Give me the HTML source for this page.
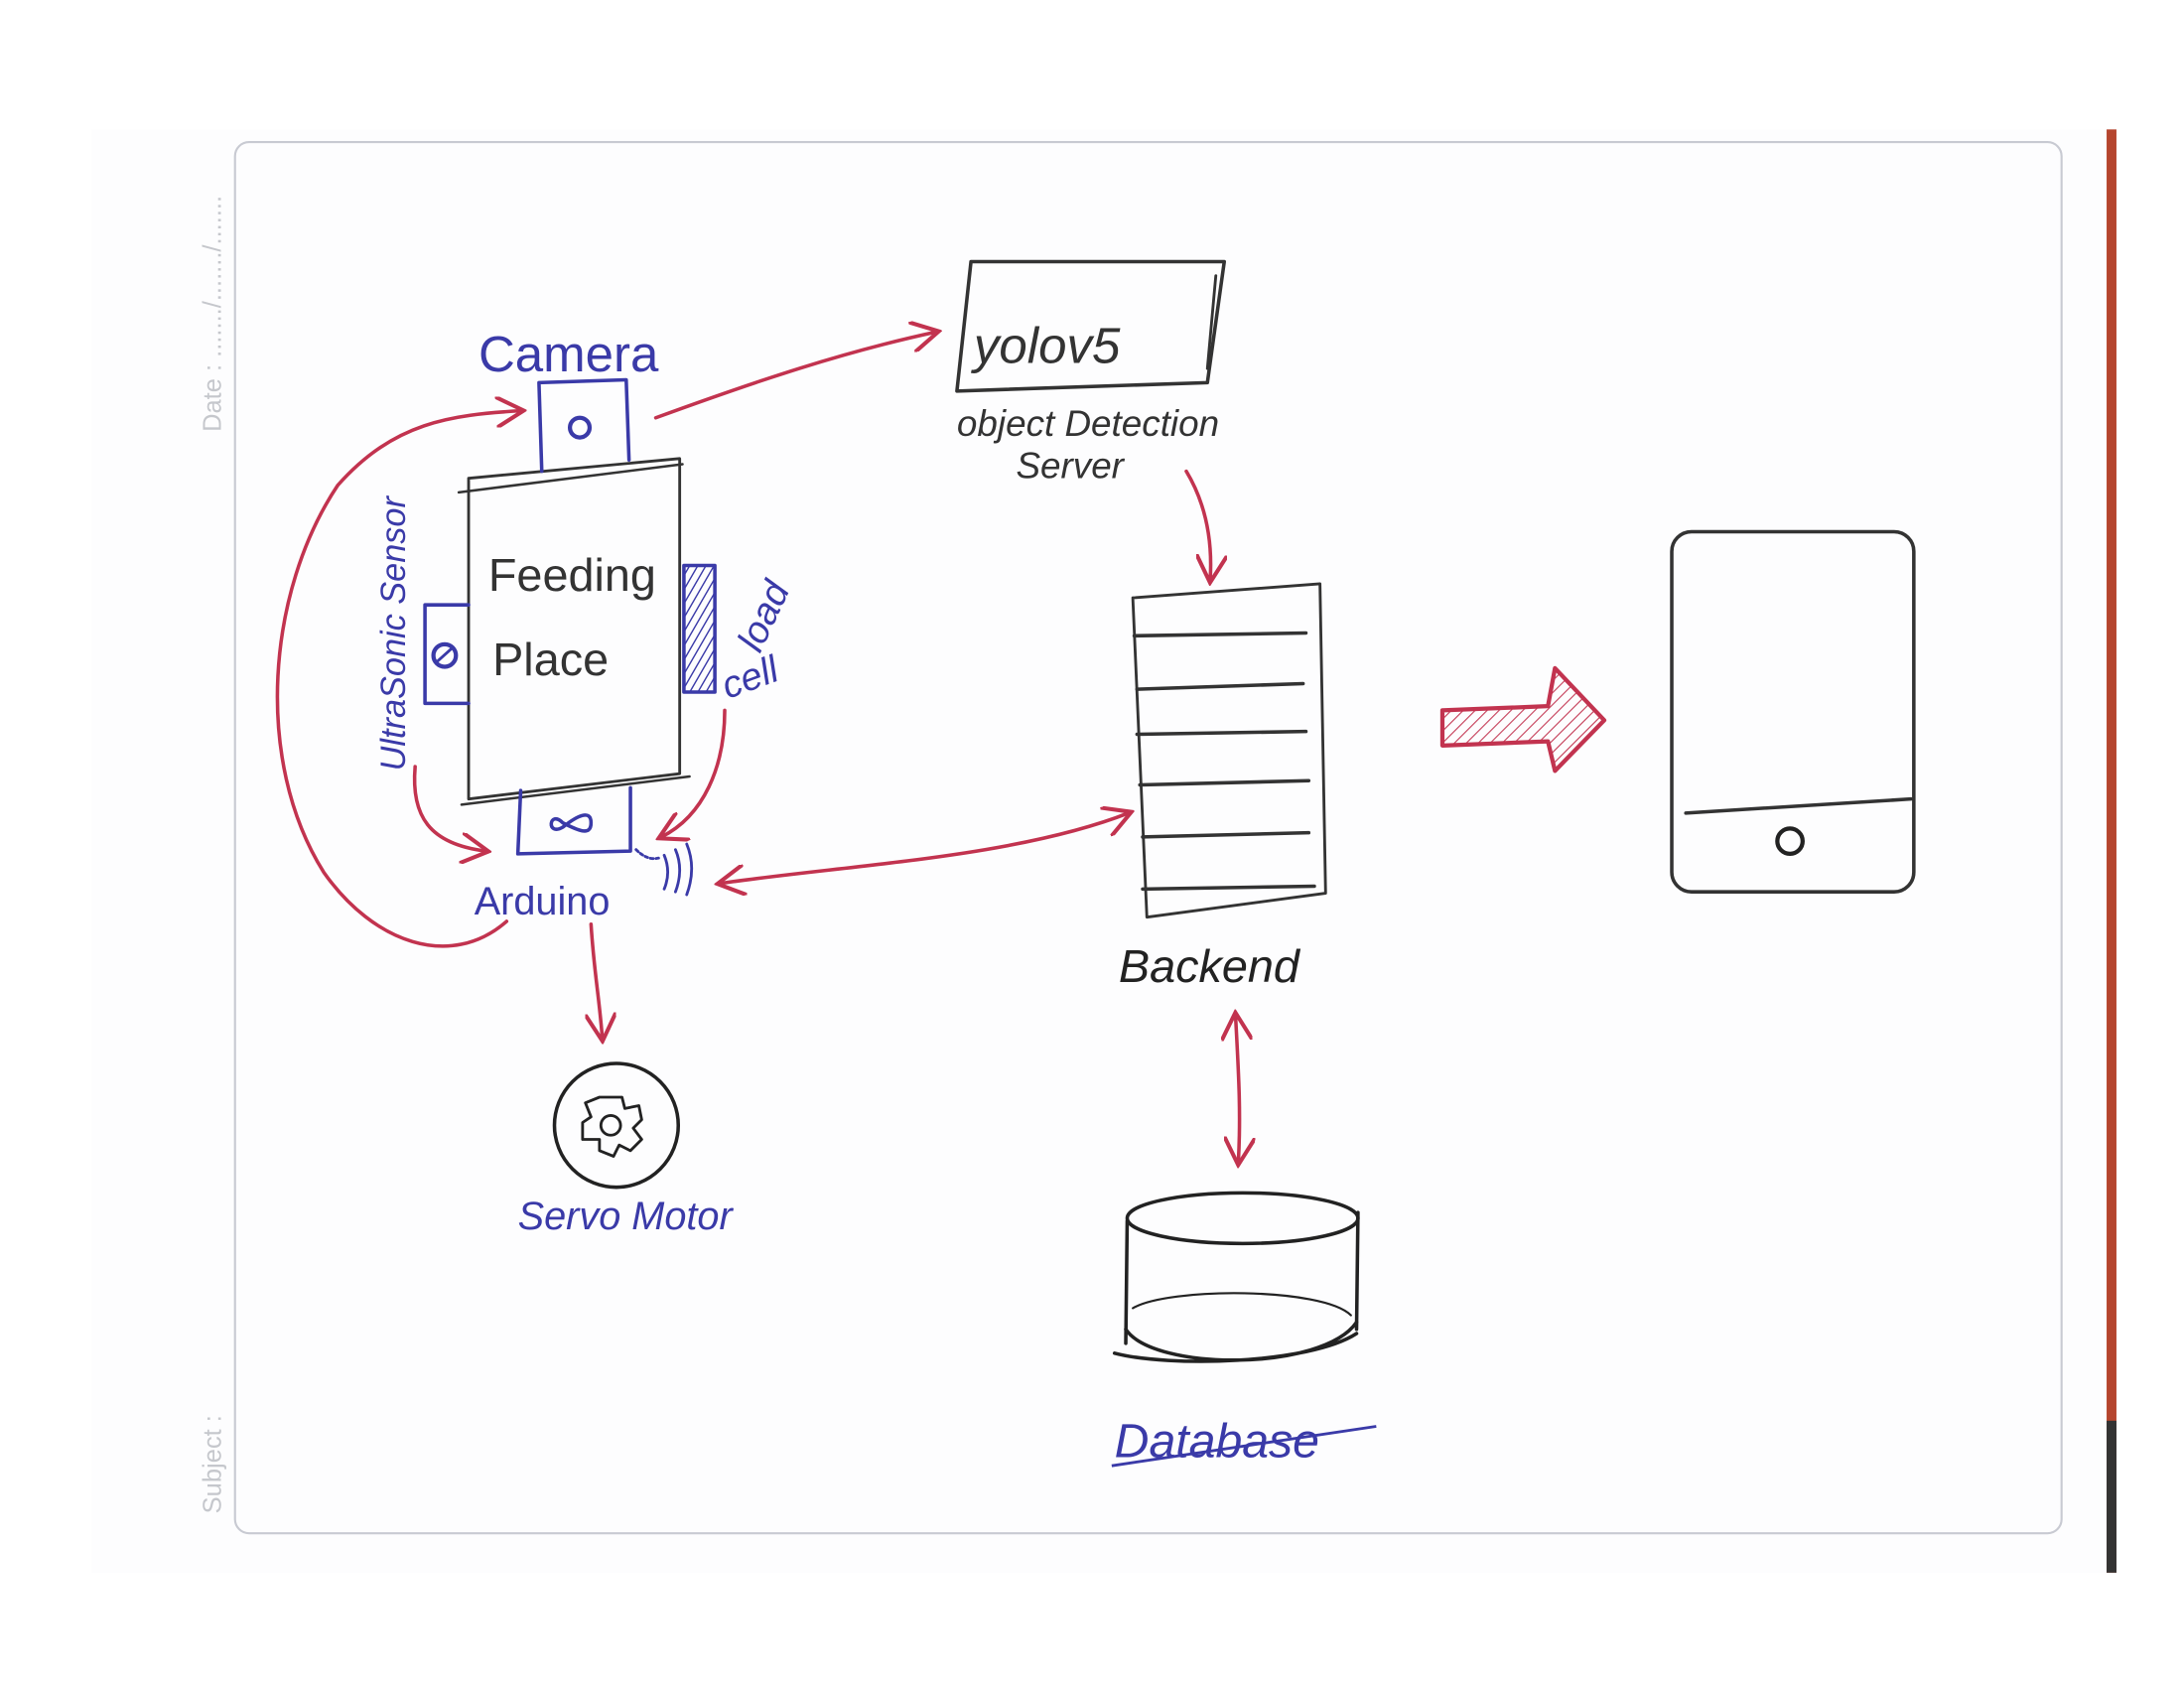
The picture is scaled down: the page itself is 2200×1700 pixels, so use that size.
<!DOCTYPE html>
<html><head><meta charset="utf-8"><style>
html,body{margin:0;padding:0;background:#fff;}
svg{display:block;}
text{font-family:"Liberation Sans",sans-serif;}
</style></head><body>
<svg width="2200" height="1700" viewBox="0 0 1552 1200" preserveAspectRatio="none" xmlns="http://www.w3.org/2000/svg">
<defs>
<marker id="ah2" viewBox="0 0 10 10" refX="8" refY="5" markerWidth="22" markerHeight="22" orient="auto-start-reverse" markerUnits="userSpaceOnUse">
<path d="M0,0 L9,5 L0,10" fill="none" stroke="#c2334f" stroke-width="1.3"/>
</marker>
<pattern id="hatch" width="5" height="5" patternUnits="userSpaceOnUse" patternTransform="rotate(30)">
<line x1="0" y1="0" x2="0" y2="5" stroke="#3a3aa8" stroke-width="2"/>
</pattern>
<pattern id="rhatch" width="6" height="6" patternUnits="userSpaceOnUse" patternTransform="rotate(45)">
<line x1="0" y1="0" x2="0" y2="6" stroke="#c2334f" stroke-width="1.5"/>
</pattern>
</defs>
<rect x="65" y="92" width="1437" height="1026" fill="#fdfdfe"/>
<rect x="1497" y="92" width="7" height="1026" fill="#b5452e"/>
<rect x="1497" y="1010" width="7" height="108" fill="#333"/>
<rect x="167" y="101" width="1298" height="989" rx="10" fill="none" stroke="#c8cad2" stroke-width="1.5"/>
<text transform="translate(157,307) rotate(-90)" font-size="18" fill="#c5c7cc">Date : ......./......./.......</text>
<text transform="translate(157,1076) rotate(-90)" font-size="18" fill="#c5c7cc">Subject :</text>

<g fill="none" stroke-linecap="round" stroke-linejoin="round">
<path d="M690,186 L870,186 L858,272 L680,278 Z" stroke="#333" stroke-width="2.5"/>
<path d="M864,196 L858,262" stroke="#333" stroke-width="2"/>
<path d="M333,340 L483,326 L483,550 L333,568 Z" stroke="#333" stroke-width="2"/>
<path d="M326,350 L485,330 M328,572 L490,552" stroke="#333" stroke-width="1.8"/>
<path d="M385,335 L383,272 L445,270 L447,327" stroke="#3a3aa8" stroke-width="2.5"/>
<circle cx="412" cy="304" r="7" stroke="#3a3aa8" stroke-width="3"/>
<path d="M333,430 L302,430 L302,500 L333,500" stroke="#3a3aa8" stroke-width="2.5"/>
<circle cx="316" cy="466" r="8" stroke="#3a3aa8" stroke-width="3"/>
<line x1="311" y1="470" x2="321" y2="461" stroke="#3a3aa8" stroke-width="2"/>
<rect x="486" y="402" width="22" height="90" fill="url(#hatch)" stroke="#3a3aa8" stroke-width="2.5"/>
<path d="M370,562 L368,607 L448,605 L448,560" stroke="#3a3aa8" stroke-width="2.5"/>
<path d="M400,585 C390,575 388,595 400,588 C410,580 420,575 420,585 C420,595 410,590 400,585" stroke="#3a3aa8" stroke-width="2.5"/>
<path d="M452,604 q8,8 16,6" stroke="#3a3aa8" stroke-width="2" stroke-dasharray="2 2"/>
<path d="M472,608 q5,12 0,24 M480,604 q6,14 0,30 M488,600 q7,17 0,36" stroke="#3a3aa8" stroke-width="2"/>
<circle cx="438" cy="800" r="44" stroke="#222" stroke-width="2.5"/>
<circle cx="434" cy="800" r="7" stroke="#222" stroke-width="2"/>
<path d="M426,780 L442,780 L444,788 L454,786 L456,796 L450,802 L456,810 L448,818 L440,814 L436,822 L426,818 L426,810 L414,810 L414,798 L420,794 L416,784 Z" stroke="#222" stroke-width="2"/>
<path d="M805,425 L938,415 L942,635 L815,652 Z" stroke="#333" stroke-width="2"/>
<path d="M806,452 L928,450 M808,490 L926,486 M808,522 L928,520 M810,558 L930,555 M812,595 L930,592 M812,632 L934,630" stroke="#333" stroke-width="2.5"/>
<rect x="1188" y="378" width="172" height="256" rx="14" stroke="#333" stroke-width="2.5"/>
<path d="M1198,578 L1358,568" stroke="#333" stroke-width="2.5"/>
<circle cx="1272" cy="598" r="9" stroke="#222" stroke-width="3"/>
<ellipse cx="883" cy="866" rx="82" ry="18" stroke="#222" stroke-width="2.5"/>
<path d="M801,868 L800,955 M965,862 L964,945" stroke="#222" stroke-width="2.5"/>
<path d="M800,945 C820,975 940,975 964,940 M792,962 C830,972 930,970 964,948" stroke="#222" stroke-width="2.5"/>
<path d="M805,930 C830,915 940,915 960,935" stroke="#222" stroke-width="1.5"/>
<path d="M466,297 C540,270 600,250 665,236" stroke="#c2334f" stroke-width="2.5" marker-end="url(#ah2)"/>
<path d="M843,335 C855,355 862,380 860,412" stroke="#c2334f" stroke-width="2.5" marker-end="url(#ah2)"/>
<path d="M512,628 C600,615 720,610 802,578" stroke="#c2334f" stroke-width="2.5" marker-start="url(#ah2)" marker-end="url(#ah2)"/>
<path d="M878,722 C880,760 882,790 880,826" stroke="#c2334f" stroke-width="2.5" marker-start="url(#ah2)" marker-end="url(#ah2)"/>
<path d="M420,657 C422,690 426,710 428,738" stroke="#c2334f" stroke-width="2.5" marker-end="url(#ah2)"/>
<path d="M360,655 C320,690 265,670 230,620 C180,540 190,420 240,345 C280,300 320,295 370,292" stroke="#c2334f" stroke-width="2.5" marker-end="url(#ah2)"/>
<path d="M295,545 C292,580 305,600 345,605" stroke="#c2334f" stroke-width="2.5" marker-end="url(#ah2)"/>
<path d="M515,505 C515,545 500,580 470,595" stroke="#c2334f" stroke-width="2.5" marker-end="url(#ah2)"/>
<path d="M1025,505 L1100,502 L1105,475 L1140,512 L1105,548 L1100,527 L1025,530 Z" fill="url(#rhatch)" stroke="#c2334f" stroke-width="3"/>
</g>

<g font-style="italic">
<text x="340" y="264" font-size="36" fill="#3a3aa8" font-style="normal">Camera</text>
<text x="347" y="420" font-size="33" fill="#333" font-style="normal">Feeding</text>
<text x="350" y="480" font-size="33" fill="#333" font-style="normal">Place</text>
<text transform="translate(288,548) rotate(-90)" font-size="25" fill="#3a3aa8" textLength="195" lengthAdjust="spacingAndGlyphs">UltraSonic Sensor</text>
<text transform="translate(540,465) rotate(-65)" font-size="27" fill="#3a3aa8">load</text>
<text x="517" y="497" font-size="27" fill="#3a3aa8" transform="rotate(-20 517 497)">cell</text>
<text x="337" y="650" font-size="28" fill="#3a3aa8" font-style="normal">Arduino</text>
<text x="692" y="258" font-size="36" fill="#333">yolov5</text>
<text x="680" y="310" font-size="26" fill="#333">object Detection</text>
<text x="722" y="340" font-size="26" fill="#333">Server</text>
<text x="795" y="698" font-size="33" fill="#222">Backend</text>
<text x="368" y="874" font-size="28" fill="#3a3aa8">Servo Motor</text>
<text x="792" y="1036" font-size="34" fill="#3a3aa8">Database</text>
</g>
<path d="M790,1042 L978,1014" stroke="#3a3aa8" stroke-width="2" fill="none"/>
</svg>
</body></html>
